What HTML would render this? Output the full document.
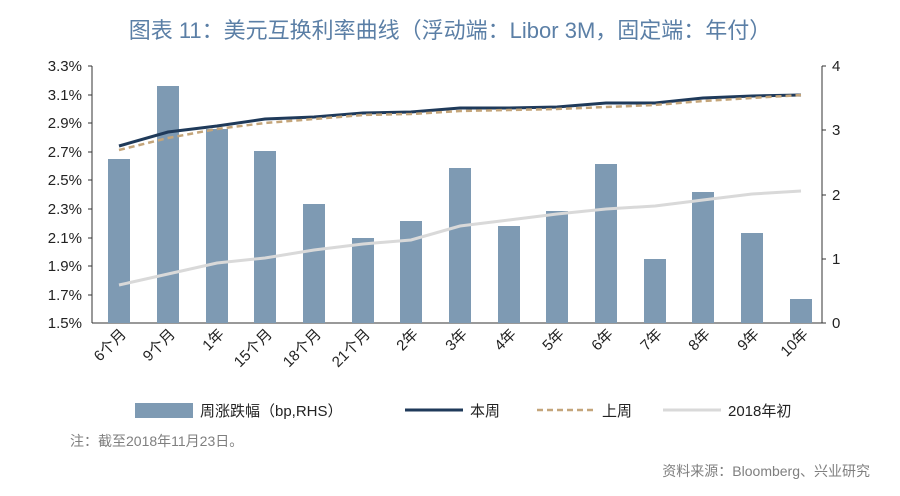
<!DOCTYPE html>
<html><head><meta charset="utf-8"><style>
body{margin:0;background:#fff;width:900px;height:491px;overflow:hidden;font-family:"Liberation Sans","Noto Sans CJK SC",sans-serif}
</style></head><body>
<svg width="900" height="491" xmlns="http://www.w3.org/2000/svg" font-family="Liberation Sans, Noto Sans CJK SC, sans-serif">
<text x="450" y="38" text-anchor="middle" font-size="22" fill="#5b7fa6">图表 11：美元互换利率曲线（浮动端：Libor 3M，固定端：年付）</text>
<g font-size="15" fill="#222" text-anchor="end">
<text x="82" y="71">3.3%</text><text x="82" y="100">3.1%</text><text x="82" y="128">2.9%</text><text x="82" y="157">2.7%</text><text x="82" y="185">2.5%</text><text x="82" y="214">2.3%</text><text x="82" y="243">2.1%</text><text x="82" y="271">1.9%</text><text x="82" y="300">1.7%</text><text x="82" y="328">1.5%</text>
</g>
<g font-size="15" fill="#222">
<text x="832" y="71">4</text><text x="832" y="135">3</text><text x="832" y="200">2</text><text x="832" y="264">1</text><text x="832" y="328">0</text>
</g>
<g stroke="#333" stroke-width="1">
<line x1="92" y1="66" x2="92" y2="323"/><line x1="822" y1="66" x2="822" y2="323"/><line x1="92" y1="323" x2="822" y2="323"/>
<g id="lt"><line x1="88" y1="66" x2="92" y2="66"/><line x1="88" y1="95" x2="92" y2="95"/><line x1="88" y1="123" x2="92" y2="123"/><line x1="88" y1="152" x2="92" y2="152"/><line x1="88" y1="180" x2="92" y2="180"/><line x1="88" y1="209" x2="92" y2="209"/><line x1="88" y1="238" x2="92" y2="238"/><line x1="88" y1="266" x2="92" y2="266"/><line x1="88" y1="295" x2="92" y2="295"/></g>
<line x1="822" y1="66" x2="826" y2="66"/><line x1="822" y1="130" x2="826" y2="130"/><line x1="822" y1="195" x2="826" y2="195"/><line x1="822" y1="259" x2="826" y2="259"/><line x1="822" y1="323" x2="826" y2="323"/>
</g>
<g fill="#7e9ab3">
<rect x="108" y="159" width="22" height="164"/><rect x="157" y="86" width="22" height="237"/><rect x="206" y="129" width="22" height="194"/><rect x="254" y="151" width="22" height="172"/><rect x="303" y="204" width="22" height="119"/><rect x="352" y="238" width="22" height="85"/><rect x="400" y="221" width="22" height="102"/><rect x="449" y="168" width="22" height="155"/><rect x="498" y="226" width="22" height="97"/><rect x="546" y="211" width="22" height="112"/><rect x="595" y="164" width="22" height="159"/><rect x="644" y="259" width="22" height="64"/><rect x="692" y="192" width="22" height="131"/><rect x="741" y="233" width="22" height="90"/><rect x="790" y="299" width="22" height="24"/>
</g>
<polyline fill="none" stroke="#d9d9d9" stroke-width="3" points="119,285 168,274 217,263 265,258 314,250 363,244 411,240 460,226 509,220 557,214 606,209 655,206 703,200 752,194 801,191"/>
<polyline fill="none" stroke="#1f3a5a" stroke-width="3" points="119,146 168,132 217,126 265,119 314,117 363,113 411,112 460,108 509,108 557,107 606,103 655,103 703,98 752,96 801,95"/>
<polyline fill="none" stroke="#c4a57a" stroke-width="2.5" stroke-dasharray="6,4" points="119,150 168,138 217,129 265,123 314,119 363,115 411,114 460,111 509,110 557,109 606,107 655,105 703,101 752,98 801,95"/>
<g font-size="15" fill="#222" text-anchor="end">
<text transform="translate(127,335) rotate(-45)">6个月</text><text transform="translate(176,335) rotate(-45)">9个月</text><text transform="translate(225,335) rotate(-45)">1年</text><text transform="translate(273,335) rotate(-45)">15个月</text><text transform="translate(322,335) rotate(-45)">18个月</text><text transform="translate(371,335) rotate(-45)">21个月</text><text transform="translate(419,335) rotate(-45)">2年</text><text transform="translate(468,335) rotate(-45)">3年</text><text transform="translate(517,335) rotate(-45)">4年</text><text transform="translate(565,335) rotate(-45)">5年</text><text transform="translate(614,335) rotate(-45)">6年</text><text transform="translate(663,335) rotate(-45)">7年</text><text transform="translate(711,335) rotate(-45)">8年</text><text transform="translate(760,335) rotate(-45)">9年</text><text transform="translate(809,335) rotate(-45)">10年</text>
</g>
<rect x="135" y="403" width="58" height="15" fill="#7e9ab3"/>
<text x="200" y="416" font-size="15" fill="#222">周涨跌幅（bp,RHS）</text>
<line x1="405" y1="410" x2="463" y2="410" stroke="#1f3a5a" stroke-width="3"/>
<text x="470" y="416" font-size="15" fill="#222">本周</text>
<line x1="537" y1="410" x2="595" y2="410" stroke="#c4a57a" stroke-width="2.5" stroke-dasharray="6,4"/>
<text x="602" y="416" font-size="15" fill="#222">上周</text>
<line x1="663" y1="410" x2="721" y2="410" stroke="#d9d9d9" stroke-width="3"/>
<text x="728" y="416" font-size="15" fill="#222">2018年初</text>
<text x="70" y="446" font-size="14" fill="#7f7f7f">注：截至2018年11月23日。</text>
<text x="870" y="476" font-size="14" fill="#7f7f7f" text-anchor="end">资料来源：Bloomberg、兴业研究</text>
</svg>
</body></html>
